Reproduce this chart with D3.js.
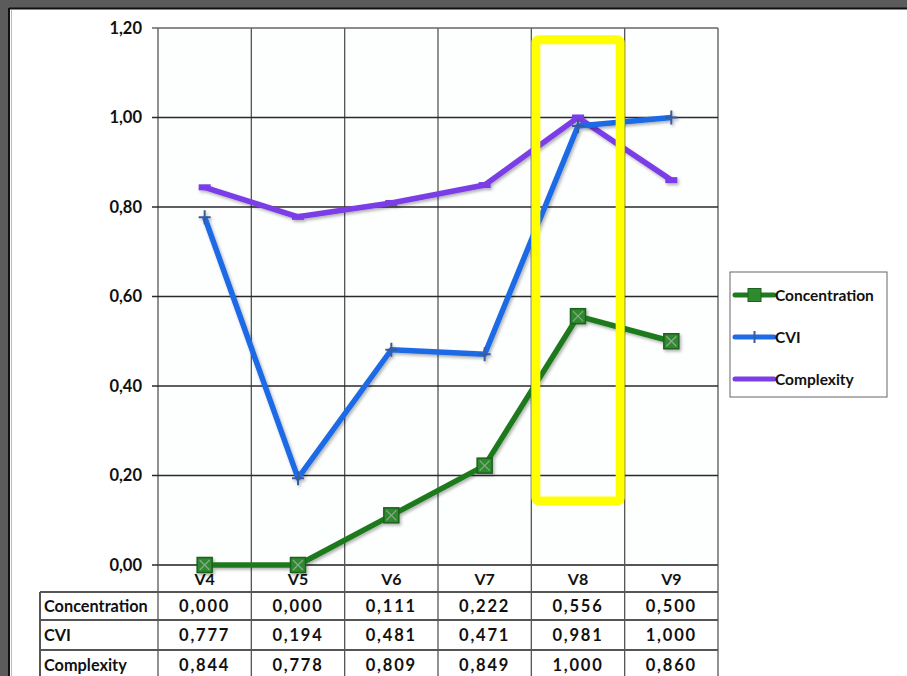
<!DOCTYPE html>
<html><head><meta charset="utf-8">
<script src="https://cdn.jsdelivr.net/npm/d3@7"></script>
<style>
html,body{margin:0;padding:0;background:#fff;}
svg{display:block;}
text{font-family:Lato,"Open Sans",sans-serif;font-weight:bold;fill:#111;}
</style></head><body>
<svg id="c" width="907" height="676"></svg>
<script>
const categories = ["V4","V5","V6","V7","V8","V9"];
const concentration = [0.000,0.000,0.111,0.222,0.556,0.500];
const cvi = [0.777,0.194,0.481,0.471,0.981,1.000];
const complexity = [0.844,0.778,0.809,0.849,1.000,0.860];
const seriesNames = ["Concentration","CVI","Complexity"];
const yTicks = [0,0.2,0.4,0.6,0.8,1.0,1.2];
const highlight = {category:"V8", from:0.143, to:1.174};

const colors = {Concentration:"#1f7a1f", CVI:"#1f6ae6", Complexity:"#7a3ee6"};
const series = [
  {name:"Concentration", values:concentration},
  {name:"CVI", values:cvi},
  {name:"Complexity", values:complexity}
];

const svg = d3.select("#c");
const fmt2 = v => d3.format(".2f")(v).replace(".",",");
const fmt3 = v => d3.format(".3f")(v).replace(".",",");

// frame
svg.append("rect").attr("x",0).attr("y",0).attr("width",907).attr("height",8).attr("fill","#5b5b5b");
svg.append("rect").attr("x",0).attr("y",0).attr("width",8).attr("height",676).attr("fill","#5b5b5b");
svg.append("line").attr("x1",9).attr("x2",907).attr("y1",8.5).attr("y2",8.5).attr("stroke","#111").attr("stroke-width",2);
svg.append("line").attr("x1",9).attr("x2",9).attr("y1",8).attr("y2",676).attr("stroke","#111").attr("stroke-width",2);
svg.append("line").attr("x1",11.5).attr("x2",11.5).attr("y1",10).attr("y2",676).attr("stroke","#bbb").attr("stroke-width",1);

const x = d3.scaleBand().domain(categories).range([158,718]);
const y = d3.scaleLinear().domain([0,1.2]).range([565,28]);

// plot bg
svg.append("rect").attr("x",158).attr("y",28).attr("width",560).attr("height",537).attr("fill","#fdfefe");

// vertical grid (continues through table)
const vx = categories.map(c=>x(c)).concat([x.range()[1]]);
svg.append("g").selectAll("line").data(vx).join("line")
  .attr("x1",d=>d).attr("x2",d=>d).attr("y1",28).attr("y2",676)
  .attr("stroke","#555").attr("stroke-width",1.3);

// horizontal grid
svg.append("g").selectAll("line").data(yTicks).join("line")
  .attr("x1",152).attr("x2",718).attr("y1",d=>y(d)).attr("y2",d=>y(d))
  .attr("stroke",d=>d===1.2?"#666":"#2a2a2a").attr("stroke-width",1.5);

// y axis labels
svg.append("g").selectAll("text").data(yTicks).join("text")
  .attr("x",142).attr("y",d=>y(d)+5.5).attr("text-anchor","end")
  .attr("font-size",16.5).text(fmt2);

// table
const rowY = [592,620,650,680];
const tableLeft = 40;
svg.append("g").selectAll("line").data(rowY).join("line")
  .attr("x1",tableLeft).attr("x2",718).attr("y1",d=>d).attr("y2",d=>d)
  .attr("stroke","#555").attr("stroke-width",2);
svg.append("line").attr("x1",tableLeft).attr("x2",tableLeft).attr("y1",592).attr("y2",676)
  .attr("stroke","#555").attr("stroke-width",2);
svg.append("line").attr("x1",158).attr("x2",718).attr("y1",565).attr("y2",565).attr("stroke","#555").attr("stroke-width",2);

svg.append("g").selectAll("text").data(categories).join("text")
  .attr("x",d=>x(d)+x.bandwidth()/2).attr("y",584.5).attr("text-anchor","middle")
  .attr("font-size",16).text(d=>d);

series.forEach((s,i)=>{
  const cy = (rowY[i]+rowY[i+1])/2 + 5.5;
  svg.append("text").attr("x",tableLeft+4).attr("y",cy).attr("font-size",16.3).text(s.name);
  svg.append("g").selectAll("text").data(s.values).join("text")
    .attr("x",(d,j)=>x(categories[j])+x.bandwidth()/2).attr("y",cy)
    .attr("text-anchor","middle").attr("font-size",16.5).attr("letter-spacing",1.8).text(fmt3);
});

// shadow filter
const defs = svg.append("defs");
const f = defs.append("filter").attr("id","sh").attr("x","-10%").attr("y","-10%").attr("width","130%").attr("height","130%");
f.append("feDropShadow").attr("dx",1.5).attr("dy",2).attr("stdDeviation",1.5).attr("flood-color","#000").attr("flood-opacity",0.3);

const line = d3.line().x((d,j)=>x(categories[j])+x.bandwidth()/2).y(d=>y(d));

// draw order: Complexity, CVI, Concentration
const order = ["Complexity","CVI","Concentration"];
order.forEach(name=>{
  const s = series.find(t=>t.name===name);
  const g = svg.append("g").attr("filter","url(#sh)");
  g.append("path").datum(s.values).attr("d",line).attr("fill","none")
    .attr("stroke",colors[name]).attr("stroke-width",5.5).attr("stroke-linejoin","round").attr("stroke-linecap","butt");
  s.values.forEach((v,j)=>{
    const px = x(categories[j])+x.bandwidth()/2, py = y(v);
    if(name==="Concentration"){
      g.append("rect").attr("x",px-7.5).attr("y",py-7.5).attr("width",15).attr("height",15)
        .attr("fill","#2f8a2f").attr("stroke","#1d621d").attr("stroke-width",1.5);
      g.append("path").attr("d",`M${px-5},${py-5}L${px+5},${py+5}M${px+5},${py-5}L${px-5},${py+5}`)
        .attr("stroke","#8fa88f").attr("stroke-width",1.2);
    } else if(name==="CVI"){
      g.append("path").attr("d",`M${px-6},${py}L${px+6},${py}M${px},${py-7}L${px},${py+7}`)
        .attr("stroke","#3a5a9a").attr("stroke-width",2);
    } else {
      g.append("rect").attr("x",px-6).attr("y",py-3).attr("width",12).attr("height",6)
        .attr("fill",colors[name]);
    }
  });
});

// highlight box
svg.append("rect")
  .attr("x",x(highlight.category)+4.5).attr("y",y(highlight.to))
  .attr("width",x.bandwidth()-9).attr("height",y(highlight.from)-y(highlight.to))
  .attr("rx",3).attr("fill","none").attr("stroke","#ffff00").attr("stroke-width",9);

// legend
const lg = svg.append("g");
lg.append("rect").attr("x",730).attr("y",272).attr("width",157).attr("height",125)
  .attr("fill","#fff").attr("stroke","#666").attr("stroke-width",1);
const legY = [295,337,379];
series.forEach((s,i)=>{
  const ly = legY[i];
  const g = lg.append("g");
  g.append("line").attr("x1",735).attr("x2",774).attr("y1",ly).attr("y2",ly)
    .attr("stroke",colors[s.name]).attr("stroke-width",5).attr("stroke-linecap","round");
  if(s.name==="Concentration"){
    g.append("rect").attr("x",748).attr("y",ly-6.5).attr("width",13).attr("height",13)
      .attr("fill","#2f8a2f").attr("stroke","#1d621d").attr("stroke-width",1);
  } else if(s.name==="CVI"){
    g.append("line").attr("x1",754.5).attr("x2",754.5).attr("y1",ly-6).attr("y2",ly+6)
      .attr("stroke","#3a5a9a").attr("stroke-width",2);
  }
  lg.append("text").attr("x",775).attr("y",ly+5.5).attr("font-size",15.5).text(s.name);
});
</script>
</body></html>
